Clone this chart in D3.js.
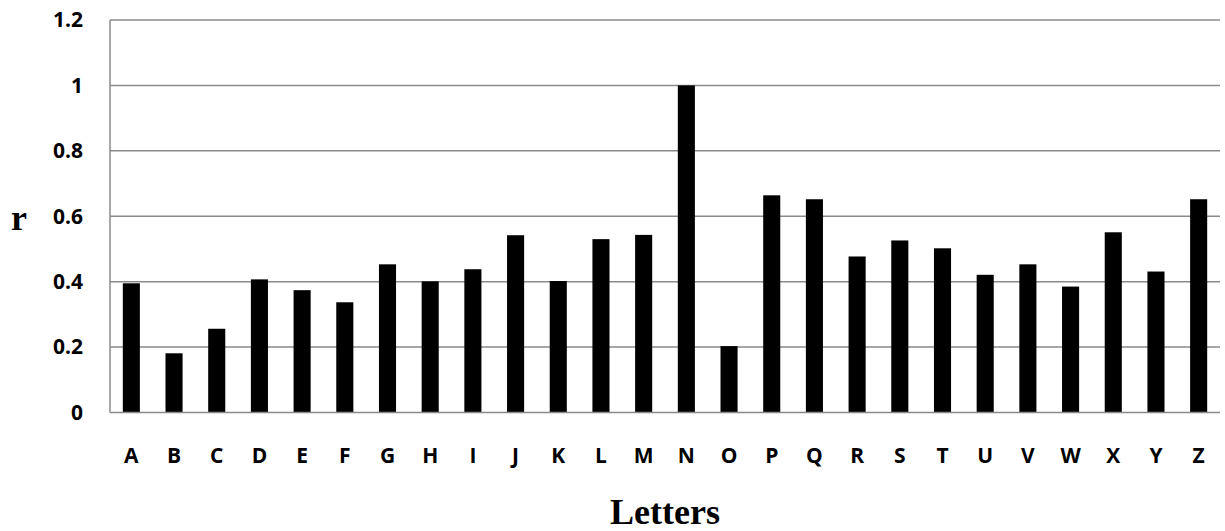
<!DOCTYPE html>
<html>
<head>
<meta charset="utf-8">
<script src="https://cdn.jsdelivr.net/npm/d3@7"></script>
<style>
  html, body { margin: 0; padding: 0; background: #fff; }
  svg { display: block; }
</style>
</head>
<body>
<svg id="chart" width="1225" height="531"></svg>
<script>
const categories = ["A","B","C","D","E","F","G","H","I","J","K","L","M","N","O","P","Q","R","S","T","U","V","W","X","Y","Z"];
const values = [0.395,0.181,0.256,0.407,0.374,0.337,0.453,0.401,0.438,0.542,0.402,0.530,0.543,1.0,0.203,0.664,0.652,0.477,0.526,0.502,0.421,0.453,0.385,0.551,0.431,0.652];
const yTicks = [0, 0.2, 0.4, 0.6, 0.8, 1, 1.2];
const xTitle = "Letters";
const yTitle = "r";

(function () {
const svg = d3.select("#chart");
const mLeft = 110, mRight = 1220, mTop = 20, mBottom = 412.5;

const x = d3.scaleBand().domain(categories).range([mLeft, mRight]).paddingInner(0.6).paddingOuter(0.3);
const y = d3.scaleLinear().domain([0, 1.2]).range([mBottom, mTop]);

// gridlines
svg.append("g").selectAll("line").data(yTicks.filter(t => t > 0)).join("line")
  .attr("x1", mLeft).attr("x2", mRight)
  .attr("y1", d => y(d)).attr("y2", d => y(d))
  .attr("stroke", "#8a8a8a").attr("stroke-width", 1.5);

// bars
svg.append("g").selectAll("rect").data(categories).join("rect")
  .attr("x", d => x(d))
  .attr("width", x.bandwidth())
  .attr("y", (d, i) => y(values[i]))
  .attr("height", (d, i) => y(0) - y(values[i]))
  .attr("fill", "#000");

// axes lines
svg.append("line").attr("x1", mLeft).attr("x2", mLeft).attr("y1", mTop).attr("y2", mBottom)
  .attr("stroke", "#8a8a8a").attr("stroke-width", 1.5);
svg.append("line").attr("x1", mLeft).attr("x2", mRight).attr("y1", mBottom).attr("y2", mBottom)
  .attr("stroke", "#8a8a8a").attr("stroke-width", 1.5);

// y tick labels
svg.append("g").selectAll("text").data(yTicks).join("text")
  .attr("x", 83).attr("y", d => y(d)).attr("dy", "0.35em")
  .attr("text-anchor", "end")
  .attr("font-family", "'Open Sans', sans-serif").attr("font-weight", "bold").attr("font-size", 21)
  .attr("fill", "#000")
  .text(d => String(d));

// x tick labels
svg.append("g").selectAll("text").data(categories).join("text")
  .attr("x", d => x(d) + x.bandwidth() / 2).attr("y", 463)
  .attr("text-anchor", "middle")
  .attr("font-family", "'Open Sans', sans-serif").attr("font-weight", "bold").attr("font-size", 21)
  .attr("fill", "#000")
  .text(d => d);

// axis titles
svg.append("text").attr("x", (mLeft + mRight) / 2).attr("y", 524)
  .attr("text-anchor", "middle")
  .attr("font-family", "'Liberation Serif', 'Times New Roman', serif").attr("font-weight", "bold").attr("font-size", 36)
  .attr("fill", "#000").text(xTitle);

svg.append("text").attr("x", 19).attr("y", 230)
  .attr("text-anchor", "middle")
  .attr("font-family", "'Liberation Serif', 'Times New Roman', serif").attr("font-weight", "bold").attr("font-size", 36)
  .attr("fill", "#000").text(yTitle);
})();
</script>
</body>
</html>
